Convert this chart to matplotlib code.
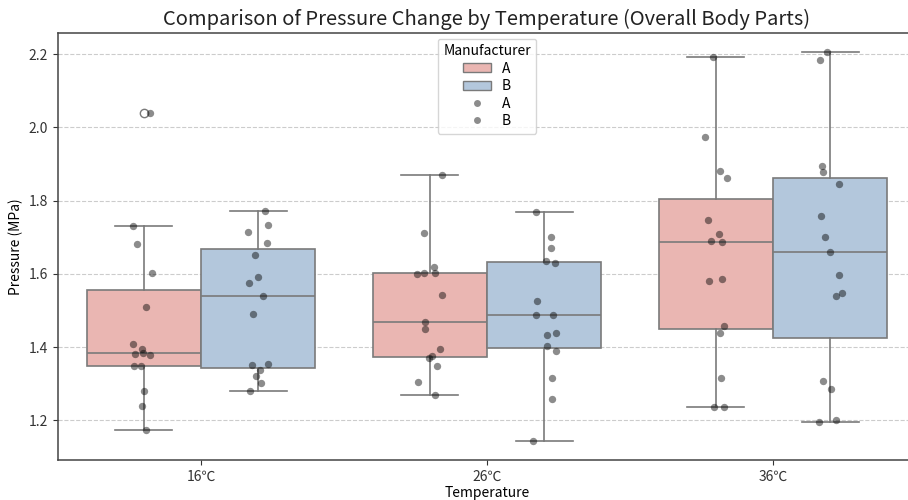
import matplotlib
matplotlib.use('Agg')
import matplotlib.pyplot as plt
from matplotlib.patches import Patch
from matplotlib.lines import Line2D
import numpy as np

plt.rcParams['font.family'] = ['Noto Sans CJK KR', 'DejaVu Sans']

temps = ['16℃', '26℃', '36℃']
makers = ['A', 'B']

# pressure readings (MPa), 15 per group
a_16 = [1.731, 1.683, 1.604, 1.511, 1.408, 1.396, 1.385, 1.382, 1.380,
        1.349, 1.349, 1.281, 1.240, 1.175, 2.039]
b_16 = [1.771, 1.733, 1.714, 1.684, 1.653, 1.592, 1.576, 1.540, 1.490,
        1.355, 1.351, 1.338, 1.322, 1.303, 1.281]
a_26 = [1.869, 1.711, 1.618, 1.604, 1.602, 1.601, 1.542, 1.470, 1.451,
        1.394, 1.376, 1.370, 1.349, 1.306, 1.269]
b_26 = [1.769, 1.700, 1.670, 1.636, 1.631, 1.526, 1.487, 1.487, 1.440,
        1.434, 1.402, 1.391, 1.315, 1.258, 1.145]
a_36 = [2.192, 1.973, 1.882, 1.861, 1.747, 1.710, 1.690, 1.687, 1.586,
        1.582, 1.457, 1.440, 1.317, 1.236, 1.236]
b_36 = [2.205, 2.183, 1.895, 1.878, 1.846, 1.757, 1.702, 1.659, 1.596,
        1.547, 1.541, 1.307, 1.285, 1.202, 1.196]

data = {'A': [a_16, a_26, a_36], 'B': [b_16, b_26, b_36]}
box_colors = {'A': '#eab6b2', 'B': '#b3c7dc'}
line_color = '#7a7a7a'

fig = plt.figure(figsize=(9.08, 5.0), dpi=100)
ax = fig.add_axes([58/908, 0.08, 858/908, 0.854])

w = 0.4
rng = np.random.default_rng(3)
for j, m in enumerate(makers):
    pos = np.arange(len(temps)) + (j - 0.5) * w
    ax.boxplot(data[m], positions=pos, widths=w, patch_artist=True,
               manage_ticks=False,
               boxprops=dict(facecolor=box_colors[m], edgecolor=line_color, linewidth=1.2),
               medianprops=dict(color=line_color, linewidth=1.2),
               whiskerprops=dict(color=line_color, linewidth=1.2),
               capprops=dict(color=line_color, linewidth=1.2),
               flierprops=dict(marker='o', markerfacecolor='none',
                               markeredgecolor=line_color, markersize=6))
    for i, vals in enumerate(data[m]):
        jit = rng.uniform(-0.045, 0.045, len(vals))
        ax.scatter(pos[i] + jit, vals, s=28, color='black', alpha=0.45,
                   linewidths=0, zorder=3)

ax.set_xlim(-0.5, 2.5)
ax.set_xticks(range(len(temps)))
ax.set_xticklabels(temps)
ax.grid(axis='y', linestyle='--', color='#cccccc', linewidth=0.8)
ax.set_axisbelow(True)
for sp in ax.spines.values():
    sp.set_color('#444444')
    sp.set_linewidth(1.1)
ax.spines['right'].set_visible(False)
ax.tick_params(colors='#333333', labelsize=10)

ax.set_title('Comparison of Pressure Change by Temperature (Overall Body Parts)',
             fontsize=14.5, color='#222222')
ax.set_xlabel('Temperature', fontsize=10, labelpad=2)
ax.set_ylabel('Pressure (MPa)', fontsize=10)

handles = [Patch(facecolor=box_colors['A'], edgecolor=line_color, label='A'),
           Patch(facecolor=box_colors['B'], edgecolor=line_color, label='B'),
           Line2D([], [], marker='o', linestyle='none', color='black', alpha=0.45,
                  markersize=5, markeredgewidth=0, label='A'),
           Line2D([], [], marker='o', linestyle='none', color='black', alpha=0.45,
                  markersize=5, markeredgewidth=0, label='B')]
ax.legend(handles=handles, title='Manufacturer', loc='upper center',
          fontsize=10, title_fontsize=10, labelspacing=0.25, handleheight=0.6,
          borderaxespad=0.4)

fig.savefig('out.png', dpi=100)
